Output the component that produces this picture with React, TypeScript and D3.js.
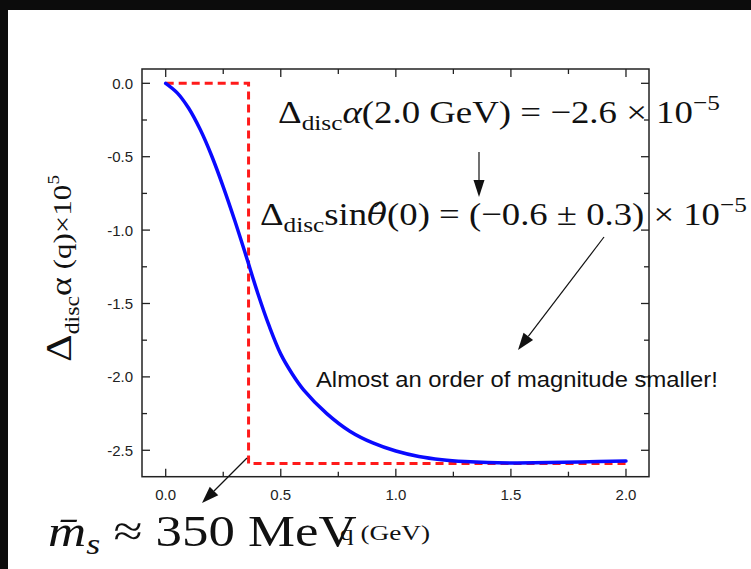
import React, { useEffect, useRef } from 'react';
import * as d3 from 'd3';

// blue curve: Δ_disc α(q) × 10^5
const qGeV = [0, 0.05, 0.1, 0.15, 0.2, 0.25, 0.3, 0.35, 0.4, 0.45, 0.5, 0.55, 0.6, 0.7, 0.8, 0.9, 1.0, 1.1, 1.2, 1.3, 1.4, 1.5, 1.6, 1.8, 2.0];
const deltaAlpha = [0, -0.065, -0.17, -0.315, -0.495, -0.705, -0.935, -1.18, -1.43, -1.655, -1.845, -1.98, -2.09, -2.25, -2.37, -2.45, -2.505, -2.542, -2.564, -2.577, -2.584, -2.586, -2.585, -2.58, -2.573];

// red dashed step (threshold at m_s)
const stepQ = [0, 0.36, 0.36, 2.0];
const stepAlpha = [0, 0, -2.59, -2.59];

const xMajorTicks = [0, 0.5, 1.0, 1.5, 2.0];
const xMinorTicks = [0.25, 0.75, 1.25, 1.75];
const yMajorTicks = [0, -0.5, -1.0, -1.5, -2.0, -2.5];
const yMinorTicks = [-0.25, -0.75, -1.25, -1.75, -2.25];

const serif = '"Liberation Serif", "DejaVu Serif", serif';
const sans = '"Liberation Sans", Arial, sans-serif';

export default function App() {
  const svgRef = useRef<SVGSVGElement>(null);

  useEffect(() => {
    if (!svgRef.current) return;
    const W = 751;
    const H = 569;
    const svg = d3.select(svgRef.current);
    svg.selectAll('*').remove();

    svg.append('rect').attr('width', W).attr('height', H).attr('fill', '#0c0c0c');
    svg.append('rect').attr('x', 8).attr('y', 10).attr('width', W - 8).attr('height', H - 10).attr('fill', '#ffffff');

    const x = d3.scaleLinear().domain([-0.103, 2.1]).range([142, 649]);
    const y = d3.scaleLinear().domain([0.0975, -2.68]).range([69, 476.7]);
    const [x0, x1] = x.range();
    const [y0, y1] = y.range();

    // frame
    svg.append('rect')
      .attr('x', x0).attr('y', y0)
      .attr('width', x1 - x0).attr('height', y1 - y0)
      .attr('fill', 'none').attr('stroke', '#222').attr('stroke-width', 1.5);

    const ticks = svg.append('g').attr('stroke', '#222').attr('stroke-width', 1.3);
    const addX = (vals: number[], len: number) => {
      vals.forEach(v => {
        ticks.append('line').attr('x1', x(v)).attr('x2', x(v)).attr('y1', y1).attr('y2', y1 - len);
        ticks.append('line').attr('x1', x(v)).attr('x2', x(v)).attr('y1', y0).attr('y2', y0 + len);
      });
    };
    const addY = (vals: number[], len: number) => {
      vals.forEach(v => {
        ticks.append('line').attr('y1', y(v)).attr('y2', y(v)).attr('x1', x0).attr('x2', x0 + len);
        ticks.append('line').attr('y1', y(v)).attr('y2', y(v)).attr('x1', x1).attr('x2', x1 - len);
      });
    };
    addX(xMajorTicks, 8);
    addX(xMinorTicks, 5);
    addY(yMajorTicks, 8);
    addY(yMinorTicks, 5);

    svg.append('g').selectAll('text').data(xMajorTicks).join('text')
      .attr('x', d => x(d)).attr('y', 500)
      .attr('text-anchor', 'middle')
      .attr('font-family', sans).attr('font-size', 15).attr('fill', '#222')
      .text(d => d3.format('.1f')(d));

    svg.append('g').selectAll('text').data(yMajorTicks).join('text')
      .attr('x', 133).attr('y', d => y(d) + 5.5)
      .attr('text-anchor', 'end')
      .attr('font-family', sans).attr('font-size', 15).attr('fill', '#222')
      .text(d => d3.format('.1f')(d).replace('−', '-'));

    // data
    const line = d3.line<number>()
      .x((_, i) => x(stepQ[i]))
      .y(d => y(d));
    svg.append('path')
      .attr('d', line(stepAlpha))
      .attr('fill', 'none').attr('stroke', '#ff1a1a')
      .attr('stroke-width', 3).attr('stroke-dasharray', '8,5');

    const curve = d3.line<number>()
      .x((_, i) => x(qGeV[i]))
      .y(d => y(d))
      .curve(d3.curveCatmullRom.alpha(0.5));
    svg.append('path')
      .attr('d', curve(deltaAlpha))
      .attr('fill', 'none').attr('stroke', '#0a0aff')
      .attr('stroke-width', 3.5).attr('stroke-linecap', 'round');

    // text fitted to a target width
    const fit = (g: any, left: number, base: number, width: number) => {
      const bb = (g.node() as SVGGElement).getBBox();
      const sx = width / bb.width;
      g.attr('transform', `translate(${left - bb.x * sx},${base}) scale(${sx},1)`);
    };

    // y axis title
    const yt = svg.append('g');
    const ytt = yt.append('text').attr('font-family', serif).attr('fill', '#111');
    ytt.append('tspan').attr('font-size', 36).text('Δ');
    ytt.append('tspan').attr('font-size', 20).attr('dy', 8).text('disc');
    ytt.append('tspan').attr('font-size', 30).attr('dy', -8).text('α');
    ytt.append('tspan').attr('font-size', 26).text(' (q)×10');
    ytt.append('tspan').attr('font-size', 16).attr('dy', -12).text('5');
    {
      const bb = (yt.node() as SVGGElement).getBBox();
      const sx = 187 / bb.width;
      yt.attr('transform', `translate(71,${362 + bb.x * sx}) rotate(-90) scale(${sx},1)`);
    }

    // x axis title
    const xt = svg.append('g');
    xt.append('text').attr('font-family', serif).attr('font-size', 22).attr('fill', '#111').text('q (GeV)');
    fit(xt, 340, 540, 90);

    // annotation 1
    const a1 = svg.append('g');
    const a1t = a1.append('text').attr('font-family', serif).attr('fill', '#111');
    a1t.append('tspan').attr('font-size', 32).text('Δ');
    a1t.append('tspan').attr('font-size', 22).attr('dy', 7).text('disc');
    a1t.append('tspan').attr('font-size', 32).attr('dy', -7).attr('font-style', 'italic').text('α');
    a1t.append('tspan').attr('font-size', 32).text('(2.0 GeV) = −2.6 × 10');
    a1t.append('tspan').attr('font-size', 22).attr('dy', -13).text('−5');
    fit(a1, 278, 123, 442);

    // annotation 2
    const a2 = svg.append('g');
    const a2t = a2.append('text').attr('font-family', serif).attr('fill', '#111');
    a2t.append('tspan').attr('font-size', 32).text('Δ');
    a2t.append('tspan').attr('font-size', 22).attr('dy', 7).text('disc');
    a2t.append('tspan').attr('font-size', 32).attr('dy', -7).text('sin');
    a2t.append('tspan').attr('font-size', 29).attr('font-style', 'italic')
      .attr('font-family', '"DejaVu Serif", serif').text('θ\u0302');
    a2t.append('tspan').attr('font-size', 32).text('(0) = (−0.6 ± 0.3) × 10');
    a2t.append('tspan').attr('font-size', 22).attr('dy', -13).text('−5');
    fit(a2, 260, 225, 487);

    // note
    const a3 = svg.append('g');
    a3.append('text').attr('font-family', sans).attr('font-size', 22).attr('fill', '#111')
      .text('Almost an order of magnitude smaller!');
    fit(a3, 316, 387, 402);

    // m_s label
    const a4 = svg.append('g');
    const a4t = a4.append('text').attr('font-family', serif).attr('fill', '#111');
    a4t.append('tspan').attr('font-size', 44).attr('font-style', 'italic').text('m\u0304');
    a4t.append('tspan').attr('font-size', 30).attr('dy', 8).attr('font-style', 'italic').text('s');
    a4t.append('tspan').attr('font-size', 44).attr('dy', -8).text(' ≈ 350 MeV');
    fit(a4, 48, 546, 309);

    // arrows
    const arrow = (xa: number, ya: number, xb: number, yb: number, hl: number, hw: number) => {
      const ang = Math.atan2(yb - ya, xb - xa);
      const bx = xb - hl * Math.cos(ang);
      const by = yb - hl * Math.sin(ang);
      const px = -Math.sin(ang) * hw / 2;
      const py = Math.cos(ang) * hw / 2;
      svg.append('line').attr('x1', xa).attr('y1', ya).attr('x2', bx).attr('y2', by)
        .attr('stroke', '#111').attr('stroke-width', 1.2);
      svg.append('path')
        .attr('d', `M${xb},${yb}L${bx + px},${by + py}L${bx - px},${by - py}Z`)
        .attr('fill', '#111');
    };
    arrow(479, 152, 479, 197, 17, 11);
    arrow(604, 237, 518, 350, 17, 12);
    arrow(247, 458, 202, 503, 17, 12);
  }, []);

  return (
    <div style={{ position: 'absolute', left: 0, top: 0 }}>
      <svg ref={svgRef} width={751} height={569} style={{ display: 'block' }}></svg>
    </div>
  );
}
